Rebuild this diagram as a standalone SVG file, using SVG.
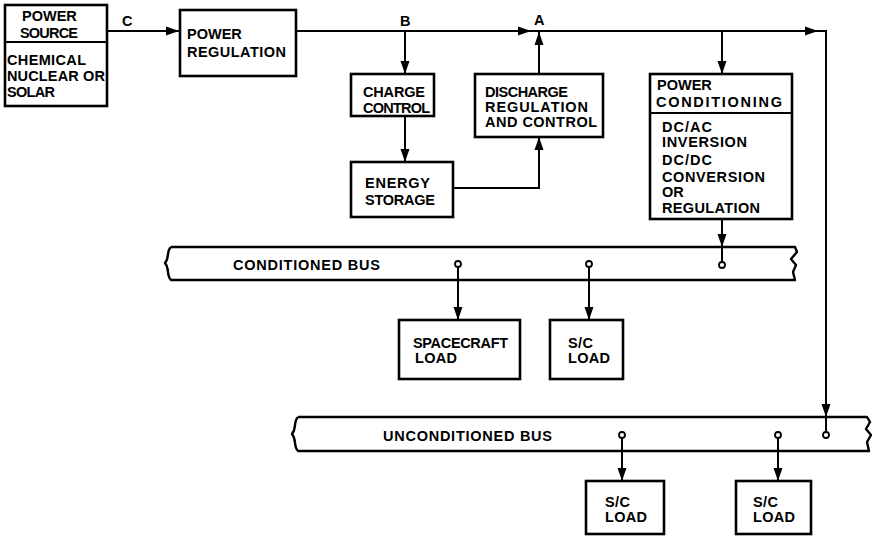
<svg xmlns="http://www.w3.org/2000/svg" xmlns:xlink="http://www.w3.org/1999/xlink" width="872" height="536" viewBox="0 0 872 536">
<style>
.box{fill:#fff;stroke:#000;stroke-width:2.6}
.ln{fill:none;stroke:#000;stroke-width:2}
.bus{fill:none;stroke:#000;stroke-width:2.4;stroke-linejoin:round}
.dot{fill:#fff;stroke:#000;stroke-width:1.8}
text{font-family:"Liberation Sans",Arial,sans-serif;font-weight:bold;font-size:14.5px;fill:#000}
</style>
<defs>
<path id="ah" d="M0,0 L-13,-4.5 L-13,4.5 Z" fill="#000"/>
</defs>
<rect width="872" height="536" fill="#fff"/>

<g id="connectors">
<path class="ln" d="M107,31 H180"/>
<path class="ln" d="M296,31 H826 V435"/>
<path class="ln" d="M405,31 V74"/>
<path class="ln" d="M405,116 V162"/>
<path class="ln" d="M453,188 H539 V137"/>
<path class="ln" d="M539,74 V31"/>
<path class="ln" d="M722,31 V74"/>
<path class="ln" d="M722,219 V262"/>
<path class="ln" d="M458,267 V320"/>
<path class="ln" d="M589,267 V320"/>
<path class="ln" d="M622,438 V481"/>
<path class="ln" d="M778,438 V481"/>
<use xlink:href="#ah" transform="translate(179,31)"/>
<use xlink:href="#ah" transform="translate(531,31)"/>
<use xlink:href="#ah" transform="translate(818,31)"/>
<use xlink:href="#ah" transform="translate(826,417) rotate(90)"/>
<use xlink:href="#ah" transform="translate(405,74) rotate(90)"/>
<use xlink:href="#ah" transform="translate(405,162) rotate(90)"/>
<use xlink:href="#ah" transform="translate(539,137) rotate(-90)"/>
<use xlink:href="#ah" transform="translate(539,32) rotate(-90)"/>
<use xlink:href="#ah" transform="translate(722,74) rotate(90)"/>
<use xlink:href="#ah" transform="translate(722,247) rotate(90)"/>
<use xlink:href="#ah" transform="translate(458,320) rotate(90)"/>
<use xlink:href="#ah" transform="translate(589,320) rotate(90)"/>
<use xlink:href="#ah" transform="translate(622,481) rotate(90)"/>
<use xlink:href="#ah" transform="translate(778,481) rotate(90)"/>
<text x="122" y="26">C</text>
<text x="400" y="26">B</text>
<text x="534" y="25">A</text>
</g>

<g id="power-source">
<rect class="box" x="5" y="5" width="102" height="101"/>
<line class="ln" x1="5" y1="42" x2="107" y2="42" stroke-width="2.4"/>
<text x="22" y="21">POWER</text>
<text x="20" y="38" textLength="58">SOURCE</text>
<text x="7" y="65" textLength="79">CHEMICAL</text>
<text x="7" y="81" textLength="98">NUCLEAR OR</text>
<text x="7" y="97" textLength="48">SOLAR</text>
</g>

<g id="power-regulation">
<rect class="box" x="180" y="10" width="116" height="66"/>
<text x="187" y="39">POWER</text>
<text x="187" y="57" textLength="99">REGULATION</text>
</g>

<g id="charge-control">
<rect class="box" x="351" y="74" width="83" height="42"/>
<text x="363" y="97" textLength="62">CHARGE</text>
<text x="363" y="113" textLength="67">CONTROL</text>
</g>

<g id="energy-storage">
<rect class="box" x="351" y="162" width="102" height="55"/>
<text x="365" y="188" textLength="65">ENERGY</text>
<text x="365" y="205" textLength="70">STORAGE</text>
</g>

<g id="discharge-regulation">
<rect class="box" x="475" y="74" width="128" height="63"/>
<text x="485" y="97" textLength="83">DISCHARGE</text>
<text x="485" y="112" textLength="103">REGULATION</text>
<text x="485" y="127" textLength="112">AND CONTROL</text>
</g>

<g id="power-conditioning">
<rect class="box" x="650" y="74" width="142" height="145"/>
<line class="ln" x1="650" y1="113" x2="792" y2="113" stroke-width="2.4"/>
<text x="657" y="90">POWER</text>
<text x="656" y="107" textLength="126">CONDITIONING</text>
<text x="662" y="132" textLength="50">DC/AC</text>
<text x="662" y="147" textLength="85">INVERSION</text>
<text x="662" y="165" textLength="50">DC/DC</text>
<text x="662" y="182" textLength="103">CONVERSION</text>
<text x="662" y="197">OR</text>
<text x="662" y="213" textLength="98">REGULATION</text>
</g>

<g id="conditioned-bus">
<path class="bus" d="M171,247 H795 L797,252 L791,259 L796,265 L793,272 L795,280 H171 C166,275 170,269 165,263 C170,257 166,251 171,247"/>
<text x="233" y="270" textLength="147" font-weight="600">CONDITIONED BUS</text>
<circle class="dot" cx="458" cy="264" r="3"/>
<circle class="dot" cx="589" cy="264" r="3"/>
<circle class="dot" cx="722" cy="265" r="3"/>
</g>

<g id="spacecraft-load">
<rect class="box" x="399" y="320" width="121" height="59"/>
<text x="413" y="348" textLength="95">SPACECRAFT</text>
<text x="415" y="363" textLength="42">LOAD</text>
</g>

<g id="sc-load-1">
<rect class="box" x="550" y="320" width="73" height="59"/>
<text x="568" y="348" textLength="25">S/C</text>
<text x="568" y="363" textLength="42">LOAD</text>
</g>

<g id="unconditioned-bus">
<path class="bus" d="M298,417 H867 L870,422 L866,429 L871,435 L867,442 L869,451 H298 C293,446 297,440 292,434 C297,428 293,422 298,417"/>
<text x="383" y="441" textLength="169" font-weight="600">UNCONDITIONED BUS</text>
<circle class="dot" cx="622" cy="435" r="3"/>
<circle class="dot" cx="778" cy="435" r="3"/>
<circle class="dot" cx="826" cy="435" r="3"/>
</g>

<g id="sc-load-2">
<rect class="box" x="586" y="481" width="78" height="53"/>
<text x="605" y="507" textLength="25">S/C</text>
<text x="605" y="522" textLength="42">LOAD</text>
</g>

<g id="sc-load-3">
<rect class="box" x="736" y="481" width="75" height="53"/>
<text x="753" y="507" textLength="25">S/C</text>
<text x="753" y="522" textLength="42">LOAD</text>
</g>
</svg>
